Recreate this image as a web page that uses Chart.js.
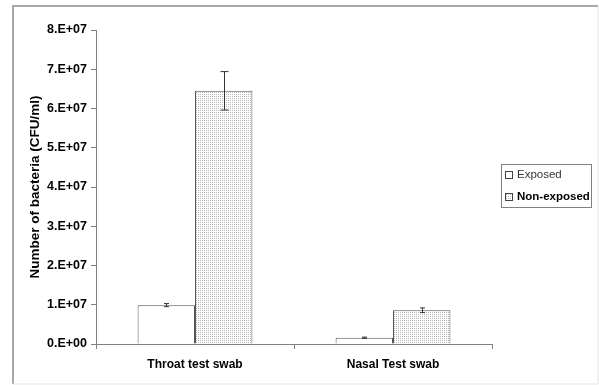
<!DOCTYPE html>
<html>
<head>
<meta charset="utf-8">
<script src="https://cdn.jsdelivr.net/npm/chart.js@4/dist/chart.umd.min.js"></script>
<style>
  html, body { margin: 0; padding: 0; background: #fff; }
  #wrap { width: 599px; height: 385px; position: relative; }
</style>
</head>
<body>
<div id="wrap"><canvas id="myChart"></canvas></div>
<script>
// data
const categories = ['Throat test swab', 'Nasal Test swab'];
const exposed = [9.9e6, 1.6e6];
const exposedErr = [0.4e6, 0.15e6];
const nonExposed = [6.45e7, 8.6e6];
const nonExposedErr = [4.9e6, 0.6e6];
const seriesNames = ['Exposed', 'Non-exposed'];

const FONT = '"Liberation Sans", Arial, sans-serif';

// dotted fill for the non-exposed bars
function makeDots() {
    const c = document.createElement('canvas');
    c.width = 2; c.height = 2;
    const g = c.getContext('2d');
    g.fillStyle = '#fff';
    g.fillRect(0, 0, 2, 2);
    g.fillStyle = '#b8b8b8';
    g.fillRect(0, 0, 1, 1);
    return g.createPattern(c, 'repeat');
}
const dots = makeDots();

function fmtSci(v) {
    if (v === 0) return '0.E+00';
    return (v / 1e7).toFixed(0) + '.E+07';
}

// frame, error bars and legend
const extras = {
    id: 'extras',
    afterDatasetsDraw(chart) {
        const ctx = chart.ctx;
        const y = chart.scales.y;
        const errs = [exposedErr, nonExposedErr];
        ctx.save();
        ctx.strokeStyle = '#333';
        ctx.lineWidth = 1;
        chart.data.datasets.forEach((ds, di) => {
            chart.getDatasetMeta(di).data.forEach((bar, i) => {
                const v = ds.data[i];
                const e = errs[di][i];
                const x = Math.round(bar.x) + 0.5;
                const top = y.getPixelForValue(v + e);
                const bot = y.getPixelForValue(v - e);
                const cap = e > 2e6 ? 4 : 2.5;
                ctx.beginPath();
                ctx.moveTo(x, top); ctx.lineTo(x, bot);
                ctx.moveTo(x - cap, top); ctx.lineTo(x + cap, top);
                ctx.moveTo(x - cap, bot); ctx.lineTo(x + cap, bot);
                ctx.stroke();
            });
        });
        ctx.restore();
    },
    afterDraw(chart) {
        const ctx = chart.ctx;
        ctx.save();
        // outer frame
        ctx.strokeStyle = '#a8a8a8';
        ctx.lineWidth = 2;
        ctx.beginPath();
        ctx.moveTo(13, 384); ctx.lineTo(13, 6); ctx.lineTo(598, 6);
        ctx.stroke();
        ctx.strokeStyle = '#e4e4e4';
        ctx.lineWidth = 1;
        ctx.beginPath();
        ctx.moveTo(598, 6); ctx.lineTo(598, 384); ctx.lineTo(13, 384);
        ctx.stroke();

        // legend
        ctx.strokeStyle = '#808080';
        ctx.lineWidth = 1;
        ctx.strokeRect(501.5, 164.5, 90, 43);
        const rows = [175, 197];
        const fills = ['#fff', dots];
        ctx.textBaseline = 'middle';
        rows.forEach((ry, i) => {
            ctx.fillStyle = fills[i];
            ctx.fillRect(505, ry - 4, 7, 7);
            ctx.strokeStyle = '#444';
            ctx.strokeRect(505.5, ry - 3.5, 7, 7);
            ctx.fillStyle = i === 0 ? '#3a3530' : '#000';
            ctx.font = (i === 0 ? '' : 'bold ') + '11.5px ' + FONT;
            ctx.fillText(seriesNames[i], 517, ry);
        });
        ctx.restore();
    }
};

const ctx = document.getElementById('myChart').getContext('2d');
const myChart = new Chart(ctx, {
    type: 'bar',
    data: {
        labels: categories,
        datasets: [
            {
                label: seriesNames[0],
                data: exposed,
                backgroundColor: '#fff',
                borderColor: '#555',
                borderWidth: 1,
            },
            {
                label: seriesNames[1],
                data: nonExposed,
                backgroundColor: dots,
                borderColor: '#555',
                borderWidth: 1,
            },
        ],
    },
    options: {
        responsive: true,
        maintainAspectRatio: false,
        animation: false,
        datasets: { bar: { categoryPercentage: 0.58, barPercentage: 1.0 } },
        layout: { padding: { left: 25, right: 107, top: 30, bottom: 0 } },
        plugins: {
            legend: { display: false },
            tooltip: { enabled: false },
        },
        scales: {
            x: {
                afterFit: s => { s.height = 41; },
                grid: {
                    display: true,
                    drawOnChartArea: false,
                    tickLength: 5,
                    color: '#808080',
                },
                border: { color: '#808080' },
                ticks: {
                    color: '#000',
                    padding: 8,
                    font: { family: FONT, size: 12, weight: 'bold' },
                },
            },
            y: {
                min: 0,
                max: 8e7,
                afterFit: s => { s.width = 71; },
                grid: {
                    display: true,
                    drawOnChartArea: false,
                    tickLength: 5,
                    color: '#808080',
                },
                border: { color: '#808080' },
                ticks: {
                    stepSize: 1e7,
                    color: '#000',
                    padding: 4,
                    font: { family: FONT, size: 12.5, weight: 'bold' },
                    callback: v => fmtSci(v),
                },
                title: {
                    display: true,
                    text: 'Number of bacteria (CFU/ml)',
                    color: '#000',
                    padding: { top: 2, bottom: 4 },
                    font: { family: FONT, size: 13.5, weight: 'bold' },
                },
            },
        },
    },
    plugins: [extras],
});
</script>
</body>
</html>
